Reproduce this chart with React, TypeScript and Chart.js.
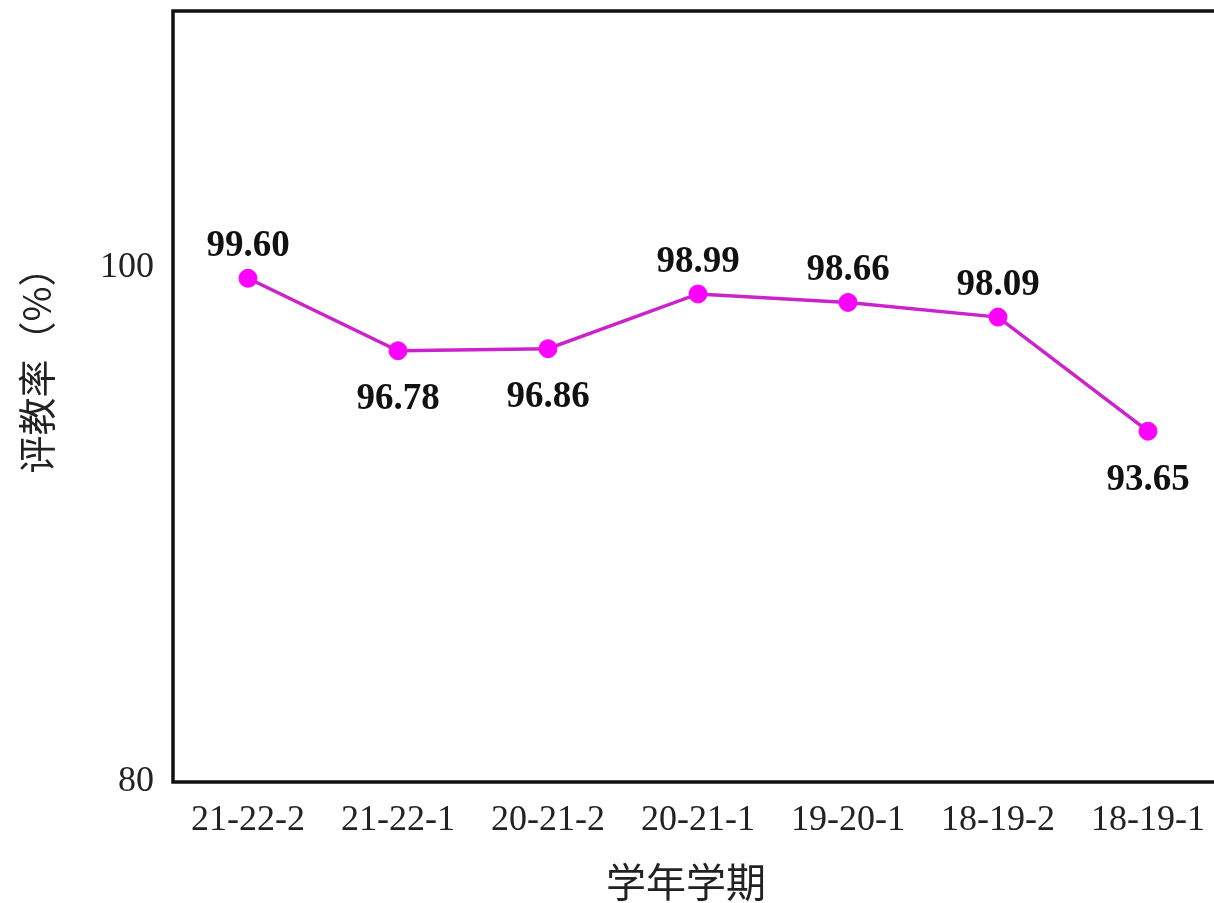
import React, { useEffect, useRef } from "react";
import { Chart, registerables } from "chart.js";

Chart.register(...registerables);

const categories = ["21-22-2", "21-22-1", "20-21-2", "20-21-1", "19-20-1", "18-19-2", "18-19-1"];
const rates = [99.6, 96.78, 96.86, 98.99, 98.66, 98.09, 93.65];
const yTickValues = [80, 100];
const xTitle = "学年学期";
const yTitle = "评教率（%）";

const SERIF = "'Liberation Serif', 'Times New Roman', serif";
const CJK = "'Noto Sans CJK SC', sans-serif";

const framePlugin = {
  id: "frameAndLabels",
  afterDatasetsDraw(chart: any) {
    const { ctx } = chart;
    const meta = chart.getDatasetMeta(0);
    ctx.save();
    ctx.font = `bold 37px ${SERIF}`;
    ctx.fillStyle = "#111";
    ctx.textAlign = "center";
    ctx.textBaseline = "middle";
    meta.data.forEach((pt: any, i: number) => {
      const v = rates[i];
      const above = v >= 98;
      const y = above ? pt.y - 32 : pt.y + 49;
      ctx.fillText(v.toFixed(2), pt.x, y);
    });
    ctx.restore();
  },
  afterDraw(chart: any) {
    const { ctx, chartArea } = chart;
    ctx.save();
    ctx.strokeStyle = "#111";
    ctx.lineWidth = 3.5;
    ctx.strokeRect(chartArea.left, chartArea.top, chartArea.right - chartArea.left, chartArea.bottom - chartArea.top);
    ctx.fillStyle = "#222";
    ctx.font = `40px ${CJK}`;
    ctx.textAlign = "center";
    ctx.textBaseline = "middle";
    ctx.fillText(xTitle, chartArea.left + 513, chartArea.bottom + 100);
    ctx.translate(37, chartArea.top + 350);
    ctx.rotate(-Math.PI / 2);
    ctx.font = `38px ${CJK}`;
    ctx.fillText(yTitle, 0, 0);
    ctx.restore();
  },
};

export default function App() {
  const ref = useRef<HTMLCanvasElement | null>(null);
  useEffect(() => {
    if (!ref.current) return;
    const chart = new Chart(ref.current, {
      type: "line",
      data: {
        labels: categories,
        datasets: [
          {
            data: rates,
            borderColor: "#CC22CC",
            borderWidth: 3.5,
            pointRadius: 9,
            pointBackgroundColor: "#FF00FF",
            pointBorderColor: "#FF00FF",
            pointBorderWidth: 1,
            tension: 0,
            fill: false,
          },
        ],
      },
      options: {
        responsive: false,
        animation: false,
        devicePixelRatio: 1,
        layout: { padding: { top: 11, right: 17, left: 0, bottom: 0 } },
        plugins: { legend: { display: false }, tooltip: { enabled: false } },
        scales: {
          x: {
            type: "category",
            offset: true,
            grid: { display: false, drawTicks: false },
            border: { display: false },
            ticks: {
              autoSkip: false,
              maxRotation: 0,
              padding: 17,
              color: "#222",
              font: { family: SERIF, size: 36 },
            },
            afterFit: (s: any) => {
              s.height = 121;
              s.paddingLeft = 0;
              s.paddingRight = 0;
            },
          },
          y: {
            min: 80,
            max: 110,
            grid: { display: false, drawTicks: false },
            border: { display: false },
            ticks: {
              padding: 19,
              color: "#222",
              font: { family: SERIF, size: 36 },
            },
            afterBuildTicks: (s: any) => {
              s.ticks = yTickValues.map((v) => ({ value: v }));
            },
            afterFit: (s: any) => {
              s.width = 173;
              s.paddingTop = 0;
              s.paddingBottom = 0;
            },
          },
        },
      },
      plugins: [framePlugin],
    });
    return () => chart.destroy();
  }, []);
  return (
    <div style={{ position: "fixed", left: 0, top: 0, width: 1214, height: 903, overflow: "hidden", background: "#fff" }}>
      <canvas ref={ref} width={1240} height={903} style={{ width: 1240, height: 903, display: "block" }} />
    </div>
  );
}
